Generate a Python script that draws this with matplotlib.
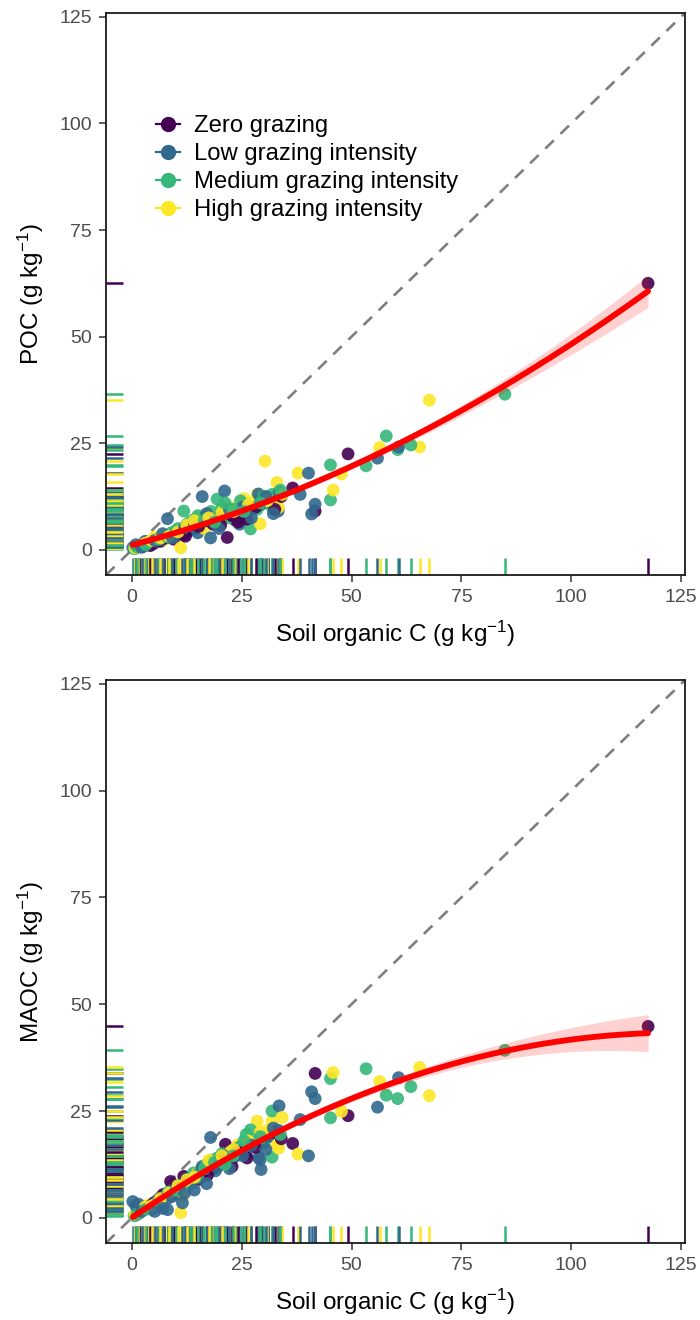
import numpy as np
import matplotlib
matplotlib.use("Agg")
import matplotlib.pyplot as plt
from matplotlib.lines import Line2D
from matplotlib.collections import LineCollection

plt.rcParams['font.family'] = ['Liberation Sans', 'DejaVu Sans']
plt.rcParams['mathtext.fontset'] = 'custom'
plt.rcParams['mathtext.rm'] = 'Liberation Sans'
plt.rcParams['mathtext.it'] = 'Liberation Sans:italic'

groups = ["Zero grazing", "Low grazing intensity", "Medium grazing intensity", "High grazing intensity"]
colors = ["#440154", "#31688E", "#35B779", "#FDE725"]

# Zero grazing
soc_zero = [0.8, 2.5, 3.5, 5.0, 6.5, 8.8, 9.5, 11.8, 13.0, 14.5, 16.0, 18.5, 19.5, 21.3, 21.7, 23.5, 25.5, 27.0, 29.5, 31.0, 36.6, 41.7, 49.2, 117.5,
            1.5, 4.2, 7.2, 10.2, 12.2, 15.2, 17.2, 20.2, 22.8, 24.2, 26.2, 28.2, 32.5, 34.0]
poc_zero = [0.4, 0.8, 1.2, 1.5, 2.0, 3.0, 2.5, 3.5, 4.5, 5.0, 6.5, 6.0, 7.5, 9.0, 2.9, 7.0, 8.5, 9.5, 11.0, 12.0, 14.5, 9.1, 22.5, 62.5,
            0.9, 1.0, 2.6, 4.0, 3.2, 5.5, 6.8, 5.8, 8.0, 6.5, 7.2, 10.0, 9.5, 12.5]
maoc_zero = [0.6, 1.8, 2.2, 3.5, 4.5, 8.5, 6.5, 9.7, 8.0, 9.5, 10.5, 11.5, 12.0, 17.2, 13.0, 14.5, 16.0, 17.0, 18.0, 19.0, 17.4, 33.8, 23.9, 44.8,
             1.0, 2.8, 5.5, 7.0, 8.5, 9.0, 10.0, 13.5, 12.0, 15.5, 14.0, 16.5, 20.0, 18.5]

# Low grazing intensity
soc_low = [0.2, 1.5, 3.0, 4.5, 6.0, 8.1, 8.1, 10.0, 11.5, 13.5, 15.0, 16.0, 17.9, 19.0, 20.5, 21.1, 23.0, 24.5, 26.0, 28.8, 29.2, 29.4, 31.0, 33.3, 33.5, 38.3, 40.2, 40.9, 41.7, 55.9, 60.7,
           0.9, 2.2, 5.2, 7.0, 9.2, 12.0, 14.2, 17.0, 19.8, 22.2, 25.2, 27.2, 30.5, 32.2]
poc_low = [0.5, 1.0, 2.0, 1.5, 2.5, 7.3, 3.0, 3.5, 4.5, 5.5, 4.0, 12.5, 2.8, 6.5, 7.5, 13.8, 8.0, 6.0, 9.0, 13.1, 10.5, 12.0, 11.0, 9.1, 13.5, 13.0, 18.0, 8.4, 10.7, 21.5, 24.1,
           1.2, 0.6, 2.2, 3.8, 2.8, 5.2, 6.2, 8.5, 5.0, 9.5, 10.0, 7.5, 12.5, 8.5]
maoc_low = [3.8, 3.2, 2.5, 2.0, 3.0, 1.9, 4.5, 5.5, 3.5, 8.0, 10.0, 12.0, 18.8, 11.0, 13.0, 14.5, 14.0, 16.5, 15.0, 14.1, 13.6, 11.3, 19.0, 20.5, 26.2, 23.0, 14.5, 29.5, 27.9, 25.9, 32.8,
            2.8, 1.5, 1.5, 2.2, 5.0, 5.8, 6.5, 8.0, 12.5, 11.5, 14.5, 17.0, 16.0, 21.0]

# Medium grazing intensity
soc_med = [0.5, 2.0, 4.0, 5.5, 7.0, 9.0, 10.5, 11.8, 12.5, 14.0, 15.5, 17.0, 18.0, 19.4, 20.5, 22.0, 23.5, 24.7, 26.0, 27.0, 28.5, 30.0, 31.9, 31.9, 45.2, 45.2, 53.3, 57.9, 60.5, 63.5, 84.9,
           1.2, 3.2, 6.2, 8.2, 10.0, 13.2, 15.0, 16.5, 18.8, 21.2, 23.0, 25.5, 29.2, 33.8]
poc_med = [0.3, 0.9, 1.5, 2.0, 2.8, 4.0, 5.0, 9.1, 6.0, 7.0, 5.5, 8.0, 9.0, 11.9, 10.0, 7.5, 8.5, 11.5, 10.5, 4.9, 9.5, 12.5, 10.0, 13.0, 11.7, 19.9, 19.7, 26.7, 23.5, 24.6, 36.5,
           0.7, 1.2, 2.5, 3.0, 4.5, 6.5, 8.0, 7.0, 6.5, 11.0, 9.5, 9.0, 11.0, 14.0]
maoc_med = [0.5, 1.5, 2.5, 3.5, 5.0, 6.0, 7.5, 8.0, 9.0, 10.5, 11.0, 12.5, 13.5, 14.0, 15.0, 13.0, 16.0, 16.5, 19.5, 20.6, 18.0, 17.5, 25.0, 14.2, 32.6, 23.4, 34.9, 28.7, 27.9, 30.7, 39.2,
            0.8, 2.0, 4.0, 6.0, 6.5, 8.0, 9.5, 11.5, 13.0, 12.5, 14.5, 18.0, 19.0, 19.5]

# High grazing intensity
soc_high = [0.7, 2.2, 3.8, 5.2, 7.5, 9.5, 11.1, 11.5, 13.5, 15.0, 16.5, 18.2, 19.8, 21.0, 22.5, 24.0, 25.5, 27.0, 28.5, 29.2, 30.3, 31.9, 33.0, 33.4, 37.8, 45.8, 47.7, 56.4, 65.5, 67.7,
            1.4, 3.0, 4.5, 6.5, 8.5, 10.5, 12.5, 14.2, 17.5, 20.5, 23.2, 26.5, 30.8, 34.2]
poc_high = [0.5, 1.2, 1.8, 3.0, 2.5, 3.5, 0.5, 4.5, 6.5, 7.5, 5.0, 8.5, 7.0, 9.5, 10.0, 8.0, 12.0, 11.0, 13.0, 6.1, 20.8, 12.0, 15.8, 10.0, 18.0, 14.0, 17.8, 24.0, 24.1, 35.1,
            0.8, 1.5, 2.2, 2.8, 3.2, 4.2, 5.8, 6.8, 7.5, 8.8, 9.0, 10.5, 11.5, 13.0]
maoc_high = [0.8, 1.5, 3.0, 3.0, 5.5, 6.5, 1.2, 5.0, 9.0, 10.5, 12.0, 12.0, 14.0, 13.5, 15.5, 17.0, 16.0, 18.5, 22.6, 20.0, 19.5, 22.6, 17.0, 16.3, 14.9, 34.0, 24.9, 31.9, 35.2, 28.6,
             1.0, 2.5, 2.8, 4.5, 5.8, 7.5, 8.8, 9.5, 13.5, 14.5, 16.0, 18.0, 20.5, 23.5]

soc_all = [soc_zero, soc_low, soc_med, soc_high]
poc_all = [poc_zero, poc_low, poc_med, poc_high]
maoc_all = [maoc_zero, maoc_low, maoc_med, maoc_high]

ticks = [0, 25, 50, 75, 100, 125]
lims = (-5.9, 125.9)

fig = plt.figure(figsize=(7, 13.2), dpi=100)
W, H = 700, 1320

def add_axes(left, top, right, bottom):
    return fig.add_axes([left / W, 1 - bottom / H, (right - left) / W, (bottom - top) / H])

ax1 = add_axes(106, 13, 685, 575)
ax2 = add_axes(106, 680, 685, 1243)

def quad_fit(x, y, xs):
    X = np.column_stack([np.ones_like(x), x, x ** 2])
    beta, *_ = np.linalg.lstsq(X, y, rcond=None)
    resid = y - X @ beta
    s2 = resid @ resid / (len(x) - 3)
    XtX_inv = np.linalg.inv(X.T @ X)
    Xs = np.column_stack([np.ones_like(xs), xs, xs ** 2])
    fit = Xs @ beta
    se = np.sqrt(np.einsum('ij,jk,ik->i', Xs, XtX_inv, Xs) * s2)
    return fit, se

def interleave(yvals):
    xs, ys, cs = [], [], []
    n = max(len(s) for s in soc_all)
    for i in range(n):
        for soc, yv, c in zip(soc_all, yvals, colors):
            if i < len(soc):
                xs.append(soc[i]); ys.append(yv[i]); cs.append(c)
    return np.array(xs), np.array(ys), cs

def panel(ax, yvals, ylabel, legend=False):
    ax.set_xlim(*lims)
    ax.set_ylim(*lims)
    ax.axline((0, 0), slope=1, color='#7F7F7F', lw=1.9, ls=(0, (4.5, 3.5)), zorder=1)
    x, y, cs = interleave(yvals)
    ax.scatter(x, y, s=85, c=cs, alpha=0.9, edgecolors='none', zorder=3)
    # rugs (x in data coords, length in axes fraction)
    xr = LineCollection([[(v, 0), (v, 0.03)] for v in x], colors=cs, linewidths=1.8,
                        transform=ax.get_xaxis_transform(), zorder=2)
    yr = LineCollection([[(0, v), (0.03, v)] for v in y], colors=cs, linewidths=1.8,
                        transform=ax.get_yaxis_transform(), zorder=2)
    ax.add_collection(xr)
    ax.add_collection(yr)
    xs = np.linspace(x.min(), x.max(), 200)
    fit, se = quad_fit(x, y, xs)
    ax.fill_between(xs, fit - 1.97 * se, fit + 1.97 * se, color='#FF0000', alpha=0.18, lw=0, zorder=4)
    ax.plot(xs, fit, color='#FF0000', lw=4.2, zorder=5, solid_capstyle='round')
    ax.set_xticks(ticks)
    ax.set_yticks(ticks)
    ax.tick_params(axis='both', direction='out', length=5, width=1.1, color='#333333',
                   labelsize=14, labelcolor='#4D4D4D', pad=5)
    for sp in ax.spines.values():
        sp.set_linewidth(1.3)
        sp.set_color('#1a1a1a')
    ax.set_xlabel(r'Soil organic C (g kg$^{-1}$)', fontsize=17.5, labelpad=9)
    ax.set_ylabel(ylabel, fontsize=17.5, labelpad=10)
    if legend:
        handles = [Line2D([0], [0], color=c, marker='o', markersize=10, lw=1.6) for c in colors]
        ax.legend(handles, groups, loc='upper left', bbox_to_anchor=(0.07, 0.835), frameon=False,
                  fontsize=17.2, handlelength=1.0, handletextpad=0.6, labelspacing=0.25,
                  borderaxespad=0)

panel(ax1, poc_all, r'POC (g kg$^{-1}$)', legend=True)
panel(ax2, maoc_all, r'MAOC (g kg$^{-1}$)')

fig.savefig('out.png', dpi=100)
